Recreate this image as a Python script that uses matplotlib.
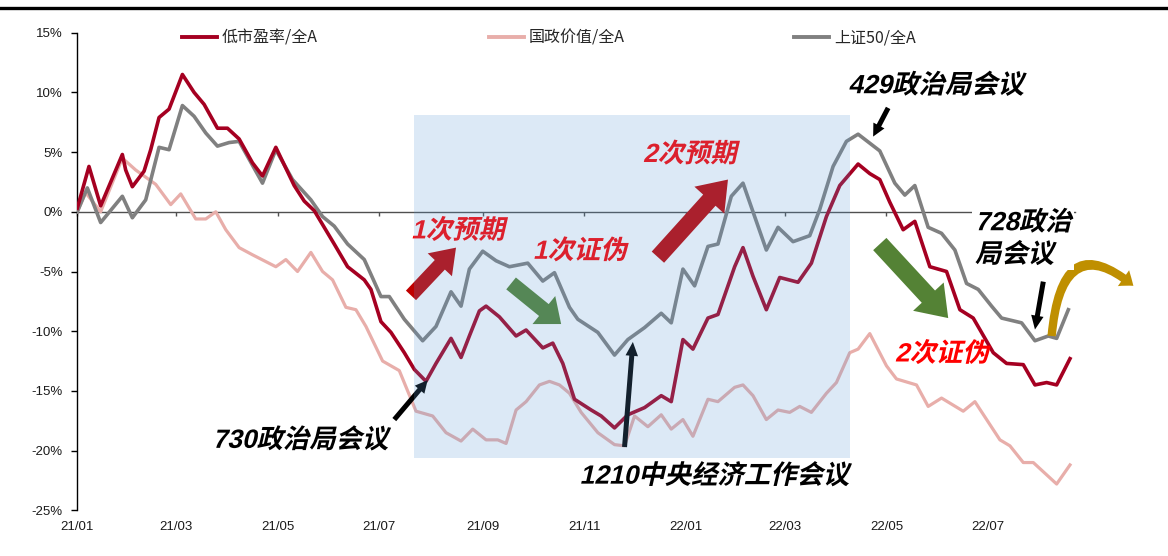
import matplotlib
matplotlib.use("Agg")
import matplotlib.pyplot as plt
import matplotlib.dates as mdates
import pandas as pd
from matplotlib.patches import FancyArrowPatch, Rectangle
from matplotlib.lines import Line2D
from matplotlib.path import Path
from matplotlib.patheffects import AbstractPathEffect
from matplotlib.transforms import Affine2D

# ---------------- data: relative performance vs. 全A (%) ----------------
low_pe_dates = [
    "2021-01-01", "2021-01-08", "2021-01-15", "2021-01-28", "2021-01-30", "2021-02-03",
    "2021-02-10", "2021-02-14", "2021-02-19", "2021-02-25", "2021-03-05", "2021-03-12",
    "2021-03-18", "2021-03-26", "2021-04-01", "2021-04-08", "2021-04-16", "2021-04-22",
    "2021-04-30", "2021-05-11", "2021-05-17", "2021-05-23", "2021-05-29", "2021-06-04",
    "2021-06-12", "2021-06-22", "2021-06-26", "2021-07-02", "2021-07-08", "2021-07-16",
    "2021-07-22", "2021-07-29", "2021-08-04", "2021-08-13", "2021-08-19", "2021-08-24",
    "2021-08-30", "2021-09-03", "2021-09-11", "2021-09-21", "2021-09-27", "2021-10-07",
    "2021-10-13", "2021-10-19", "2021-10-26", "2021-11-05", "2021-11-11", "2021-11-19",
    "2021-11-27", "2021-12-07", "2021-12-17", "2021-12-23", "2021-12-30", "2022-01-05",
    "2022-01-14", "2022-01-20", "2022-01-30", "2022-02-04", "2022-02-10", "2022-02-18",
    "2022-02-26", "2022-03-09", "2022-03-17", "2022-03-26", "2022-04-03", "2022-04-14",
    "2022-04-21", "2022-04-27", "2022-05-03", "2022-05-11", "2022-05-18", "2022-05-27",
    "2022-06-06", "2022-06-14", "2022-06-22", "2022-07-04", "2022-07-12", "2022-07-22",
    "2022-07-29", "2022-08-05", "2022-08-11", "2022-08-19",
]
low_pe = [
    0.3, 3.8, 0.5, 4.8, 3.5, 2.1,
    3.4, 5.2, 7.9, 8.6, 11.5, 10.0,
    9.0, 7.0, 7.0, 6.1, 4.1, 3.0,
    5.4, 2.2, 0.9, 0.1, -1.3, -2.7,
    -4.6, -5.7, -6.5, -9.2, -10.1, -11.8,
    -13.2, -14.2, -12.7, -10.6, -12.2, -10.4,
    -8.3, -7.9, -8.8, -10.4, -9.9, -11.4,
    -11.0, -12.7, -15.7, -16.6, -17.1, -18.1,
    -17.0, -16.4, -15.4, -15.9, -10.7, -11.5,
    -8.9, -8.6, -4.6, -3.0, -5.4, -8.2,
    -5.5, -5.9, -4.3, -0.4, 2.2, 4.0,
    3.2, 2.7, 0.8, -1.5, -0.8, -4.6,
    -5.0, -8.2, -8.9, -11.8, -12.7, -12.8,
    -14.5, -14.3, -14.5, -12.3,
]

sse50_dates = [
    "2021-01-01", "2021-01-07", "2021-01-15", "2021-01-28", "2021-02-03", "2021-02-11",
    "2021-02-19", "2021-02-25", "2021-03-05", "2021-03-12", "2021-03-19", "2021-03-26",
    "2021-04-02", "2021-04-08", "2021-04-22", "2021-04-30", "2021-05-10", "2021-05-21",
    "2021-05-28", "2021-06-04", "2021-06-12", "2021-06-22", "2021-07-02", "2021-07-07",
    "2021-07-16", "2021-07-27", "2021-08-04", "2021-08-13", "2021-08-19", "2021-08-24",
    "2021-09-01", "2021-09-09", "2021-09-17", "2021-09-28", "2021-10-07", "2021-10-14",
    "2021-10-23", "2021-10-28", "2021-11-09", "2021-11-19", "2021-11-27", "2021-12-07",
    "2021-12-17", "2021-12-23", "2021-12-30", "2022-01-06", "2022-01-14", "2022-01-20",
    "2022-01-28", "2022-02-04", "2022-02-18", "2022-02-25", "2022-03-06", "2022-03-16",
    "2022-03-22", "2022-03-30", "2022-04-07", "2022-04-14", "2022-04-27", "2022-05-06",
    "2022-05-12", "2022-05-18", "2022-05-26", "2022-06-03", "2022-06-11", "2022-06-18",
    "2022-06-25", "2022-07-03", "2022-07-09", "2022-07-21", "2022-07-29", "2022-08-06",
    "2022-08-11", "2022-08-18",
]
sse50 = [
    0.0, 2.0, -0.9, 1.3, -0.5, 1.0,
    5.4, 5.2, 8.9, 8.0, 6.6, 5.5,
    5.8, 5.9, 2.4, 5.2, 2.7, 1.0,
    -0.4, -1.2, -2.7, -4.0, -7.1, -7.1,
    -9.0, -10.8, -9.6, -6.7, -7.9, -4.8,
    -3.3, -4.1, -4.6, -4.3, -5.8, -5.1,
    -8.0, -9.0, -10.1, -12.0, -10.7, -9.7,
    -8.5, -9.3, -4.8, -6.2, -2.9, -2.7,
    1.3, 2.4, -3.2, -1.3, -2.5, -2.0,
    0.2, 3.8, 5.9, 6.5, 5.1, 2.4,
    1.4, 2.2, -1.3, -1.8, -3.2, -6.0,
    -6.5, -7.9, -8.9, -9.3, -10.8, -10.4,
    -10.6, -8.2,
]

state_value_dates = [
    "2021-01-01", "2021-01-06", "2021-01-15", "2021-01-28", "2021-02-05", "2021-02-17",
    "2021-02-26", "2021-03-04", "2021-03-13", "2021-03-19", "2021-03-25", "2021-03-31",
    "2021-04-08", "2021-04-16", "2021-04-30", "2021-05-06", "2021-05-13", "2021-05-21",
    "2021-05-28", "2021-06-03", "2021-06-11", "2021-06-17", "2021-06-23", "2021-07-03",
    "2021-07-13", "2021-07-23", "2021-08-02", "2021-08-10", "2021-08-19", "2021-08-26",
    "2021-09-03", "2021-09-10", "2021-09-15", "2021-09-21", "2021-09-27", "2021-10-05",
    "2021-10-11", "2021-10-17", "2021-10-23", "2021-10-30", "2021-11-09", "2021-11-19",
    "2021-11-25", "2021-12-01", "2021-12-09", "2021-12-17", "2021-12-23", "2021-12-30",
    "2022-01-05", "2022-01-14", "2022-01-20", "2022-01-30", "2022-02-04", "2022-02-10",
    "2022-02-18", "2022-02-25", "2022-03-04", "2022-03-10", "2022-03-17", "2022-03-26",
    "2022-04-01", "2022-04-09", "2022-04-14", "2022-04-21", "2022-05-01", "2022-05-07",
    "2022-05-19", "2022-05-26", "2022-06-03", "2022-06-16", "2022-06-23", "2022-07-08",
    "2022-07-14", "2022-07-22", "2022-07-28", "2022-08-11", "2022-08-19",
]
state_value = [
    0.0, 1.6, 0.0, 4.5, 3.5, 2.3,
    0.6, 1.5, -0.6, -0.6, 0.0, -1.5,
    -3.0, -3.6, -4.6, -4.0, -5.0, -3.4,
    -5.0, -5.7, -8.0, -8.2, -9.6, -12.5,
    -13.3, -16.7, -17.1, -18.5, -19.2, -18.2,
    -19.1, -19.1, -19.4, -16.6, -15.9, -14.5,
    -14.2, -14.5, -15.2, -16.8, -18.5, -19.5,
    -19.6, -17.1, -18.0, -17.0, -18.2, -17.4,
    -18.8, -15.7, -15.9, -14.7, -14.5, -15.4,
    -17.4, -16.6, -16.8, -16.3, -16.8, -15.2,
    -14.3, -11.8, -11.5, -10.2, -12.9, -14.0,
    -14.5, -16.3, -15.6, -16.7, -15.9, -19.1,
    -19.6, -21.0, -21.0, -22.8, -21.2,
]

series_labels = ["低市盈率/全A", "国政价值/全A", "上证50/全A"]
series_colors = ["#a50021", "#e8aeaa", "#808080"]

y_ticks = [15, 10, 5, 0, -5, -10, -15, -20, -25]

# highlighted period (from 730 meeting to the April 2022 rebound)
shade_start, shade_end = "2021-07-22", "2022-04-09"
shade_low, shade_high = -20.6, 8.1

CJK = ["Liberation Sans", "Noto Sans CJK SC"]


def d(s):
    return mdates.date2num(pd.Timestamp(s))


class Slant(AbstractPathEffect):
    """Shear glyph outlines so CJK text gets an oblique look."""

    def __init__(self, angle=13):
        super().__init__()
        self._shear = Affine2D().skew_deg(angle, 0)

    def draw_path(self, renderer, gc, tpath, affine, rgbFace=None):
        renderer.draw_path(gc, tpath, self._shear + affine, rgbFace)


W, H = 1168, 556
fig = plt.figure(figsize=(W / 100, H / 100), dpi=100)
ax_left, ax_right, ax_top, ax_bottom = 77.3, 1075, 32.7, 510.3
ax = fig.add_axes([ax_left / W, 1 - ax_bottom / H,
                   (ax_right - ax_left) / W, (ax_bottom - ax_top) / H])

# report header rule
fig.add_artist(Line2D([0, 1], [1 - 8 / H, 1 - 8 / H], color="black", lw=2.4,
                      transform=fig.transFigure))

# series
ax.plot(pd.to_datetime(state_value_dates), state_value, color=series_colors[1],
        lw=2.3, solid_joinstyle="round", zorder=3)
ax.plot(pd.to_datetime(sse50_dates), sse50, color=series_colors[2],
        lw=2.6, solid_joinstyle="round", zorder=3)
ax.plot(pd.to_datetime(low_pe_dates), low_pe, color=series_colors[0],
        lw=2.6, solid_joinstyle="round", zorder=3)

ax.set_ylim(-25, 15)
ax.set_xlim(pd.Timestamp("2021-01-01"), pd.Timestamp("2022-08-22"))

# axes styling
for s in ["top", "right"]:
    ax.spines[s].set_visible(False)
ax.spines["left"].set_color("black")
ax.spines["left"].set_linewidth(1.0)
ax.spines["bottom"].set_position(("data", 0))
ax.spines["bottom"].set_color("#505050")
ax.spines["bottom"].set_linewidth(1.0)

ax.set_yticks(y_ticks)
ax.set_yticklabels([f"{v}%" for v in y_ticks], fontfamily="Liberation Sans",
                   fontsize=9.5, color="#1a1a1a")
ax.tick_params(axis="y", direction="out", length=4, width=1, pad=6.5)

ax.xaxis.set_major_locator(mdates.MonthLocator(bymonth=[1, 3, 5, 7, 9, 11]))
ax.tick_params(axis="x", direction="out", length=3, width=1, color="#505050",
               labelbottom=False)

sec = ax.secondary_xaxis("bottom")
sec.xaxis.set_major_locator(mdates.MonthLocator(bymonth=[1, 3, 5, 7, 9, 11]))
sec.xaxis.set_major_formatter(mdates.DateFormatter("%y/%m"))
sec.tick_params(length=0, pad=8)
for lab in sec.get_xticklabels():
    lab.set_fontfamily("Liberation Sans")
    lab.set_fontsize(9.5)
    lab.set_color("#1a1a1a")
sec.spines["bottom"].set_visible(False)

# legend: three entries evenly spaced across the top
for x_px, lab, col in zip([182, 489, 794], series_labels, series_colors):
    h = Line2D([], [], color=col, lw=2.8)
    fig.legend([h], [lab], loc="center left",
               bbox_to_anchor=(x_px / W, 1 - 38 / H), frameon=False,
               prop={"family": ["Noto Sans CJK SC"], "size": 11.5},
               handlelength=2.2, handletextpad=0.3, borderpad=0,
               borderaxespad=0, labelcolor="#262626")

slant = [Slant(13)]


def label(text, when, val, color="black", **kw):
    ax.text(d(when), val, text, color=color, fontsize=19, family=CJK,
            weight="bold", ha="left", va="center", path_effects=slant,
            zorder=5, **kw)


def arrow(tail, head, color, shaft, hw, hl, zorder=4):
    p = FancyArrowPatch((d(tail[0]), tail[1]), (d(head[0]), head[1]),
                        arrowstyle=f"simple,head_length={hl},head_width={hw},tail_width={shaft}",
                        mutation_scale=1, color=color, lw=0, shrinkA=0, shrinkB=0,
                        zorder=zorder, clip_on=False)
    ax.add_patch(p)


# expectation / falsification arrows
arrow(("2021-07-20", -7.0), ("2021-08-16", -3.0), "#c00000", 10, 24, 17)
arrow(("2021-09-18", -6.0), ("2021-10-18", -9.4), "#548235", 11, 26, 16)
arrow(("2021-12-15", -3.8), ("2022-01-26", 2.7), "#c00000", 12, 29, 20)
arrow(("2022-04-27", -2.7), ("2022-06-07", -8.9), "#548235", 13, 30, 21)

# meeting pointers
arrow(("2021-07-10", -17.4), ("2021-07-30", -14.1), "black", 3.6, 9, 9)
arrow(("2021-11-25", -19.7), ("2021-11-30", -10.9), "black", 3.6, 9, 10)
arrow(("2022-05-02", 8.7), ("2022-04-23", 6.3), "black", 3.6, 9, 9)
arrow(("2022-08-03", -5.85), ("2022-07-29", -9.86), "black", 3.6, 9, 10)

# curved outlook arrow after the last observation
bend = Path([(d("2022-08-08"), -10.4), (d("2022-08-14"), -1.2), (d("2022-09-26"), -6.2)],
            [Path.MOVETO, Path.CURVE3, Path.CURVE3])
ax.add_patch(FancyArrowPatch(path=bend,
                             arrowstyle="simple,head_length=9,head_width=14,tail_width=6",
                             mutation_scale=1, color="#bf8f00", lw=0,
                             zorder=4, clip_on=False))

# text annotations
label("429政治局会议", "2022-04-08", 10.6)
label("730政治局会议", "2021-03-23", -19.1)
label("1210中央经济工作会议", "2021-10-29", -22.1)
label("1次预期", "2021-07-20", -1.6, color="#ff0000")
label("1次证伪", "2021-10-01", -3.3, color="#ff0000")
label("2次预期", "2021-12-06", 4.8, color="#ff0000")
label("2次证伪", "2022-05-06", -11.9, color="#ff0000")
ax.text(d("2022-06-23"), -2.25, "728政治\n局会议", color="black", fontsize=19,
        family=CJK, weight="bold", ha="left", va="center", path_effects=slant,
        linespacing=1.3, zorder=7,
        bbox=dict(boxstyle="square,pad=0.1", fc="white", ec="none"))

# translucent highlight over the policy window
ax.add_patch(Rectangle((d(shade_start), shade_low), d(shade_end) - d(shade_start),
                       shade_high - shade_low, facecolor="#5b9bd5", alpha=0.21,
                       edgecolor="none", zorder=6))

fig.savefig("out.png", dpi=100)
